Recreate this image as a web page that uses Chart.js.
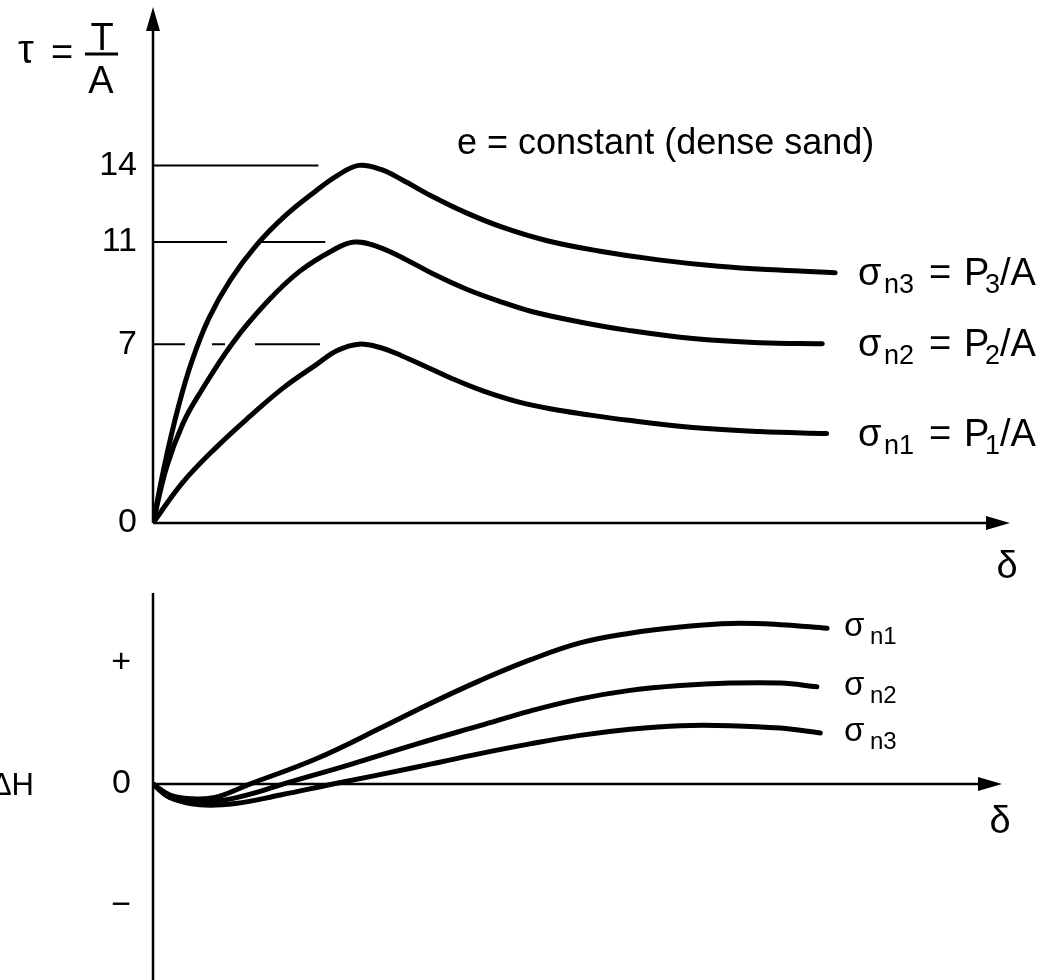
<!DOCTYPE html>
<html>
<head>
<meta charset="utf-8">
<script src="https://cdn.jsdelivr.net/npm/chart.js@4.4.1/dist/chart.umd.min.js"></script>
<style>
  html, body { margin: 0; padding: 0; background: #fff; }
  #wrap { position: relative; width: 1055px; height: 980px; overflow: hidden; }
  canvas { position: absolute; left: 0; }
  #shearChart { top: 0; }
  #heightChart { top: 590px; }
</style>
</head>
<body>
<div id="wrap">
  <canvas id="shearChart" width="1055" height="590"></canvas>
  <canvas id="heightChart" width="1055" height="390"></canvas>
</div>
<script>
// shear stress against horizontal displacement, [delta, tau]
const sn3Shear = [[0,0],[0.15,2.5],[0.30,4.6],[0.45,6.3],[0.65,8.0],[0.90,9.5],[1.20,10.85],[1.55,12.05],[1.90,13.0],[2.15,13.6],[2.40,14],[2.65,13.85],[2.90,13.45],[3.25,12.8],[3.65,12.15],[4.10,11.55],[4.60,11.05],[5.20,10.65],[5.90,10.3],[6.60,10.05],[7.30,9.9],[7.96,9.8]];
const sn2Shear = [[0,0],[0.16,2.2],[0.35,3.9],[0.55,5.1],[0.93,7.05],[1.33,8.65],[1.71,9.85],[2.10,10.68],[2.35,11],[2.62,10.82],[2.96,10.3],[3.27,9.75],[3.66,9.15],[4.05,8.67],[4.43,8.27],[4.98,7.87],[5.53,7.55],[6.30,7.22],[7.08,7.06],[7.81,7.02]];
const sn1Shear = [[0,0],[0.35,1.6],[0.75,3.0],[1.14,4.2],[1.52,5.29],[1.91,6.21],[2.15,6.75],[2.40,7],[2.65,6.87],[2.90,6.55],[3.20,6.1],[3.50,5.64],[3.85,5.17],[4.25,4.75],[4.65,4.46],[5.05,4.25],[5.55,4.02],[6.30,3.74],[7.08,3.58],[7.86,3.5]];

// change in sample height against displacement, [delta, dH]
const sn1Height = [[0,0],[0.20,-0.09],[0.44,-0.12],[0.73,-0.11],[1.14,0.0],[1.93,0.21],[2.71,0.47],[3.26,0.66],[3.85,0.85],[4.44,1.02],[5.03,1.16],[5.62,1.24],[6.21,1.29],[6.80,1.32],[7.39,1.31],[7.94,1.28]];
const sn2Height = [[0,0],[0.20,-0.11],[0.49,-0.15],[0.85,-0.13],[1.26,-0.06],[1.53,0.0],[2.32,0.16],[3.11,0.33],[3.85,0.48],[4.44,0.60],[5.03,0.70],[5.62,0.77],[6.21,0.81],[6.80,0.83],[7.39,0.83],[7.82,0.80]];
const sn3Height = [[0,0],[0.20,-0.11],[0.55,-0.17],[0.97,-0.16],[1.50,-0.09],[2.12,0],[3.11,0.14],[3.85,0.25],[4.44,0.33],[5.03,0.40],[5.62,0.45],[6.21,0.48],[6.80,0.48],[7.39,0.46],[7.86,0.42]];

// peak levels marked on the tau axis and how far their guide lines run
const shearTicks = [0, 7, 11, 14];
const peakLevels = [14, 11, 7];
const peakLineEnds = [1.93, 2.01, 1.95];
const peakLineDash = [[], [74, 35], [32, 27, 13, 30, 65, 10]];

const heightTicks = [1, 0, -1];
const heightTickLabels = { '1': '+', '0': '0', '-1': '\u2212' };

const FONT = '"Liberation Sans", Arial, sans-serif';
const pts = arr => arr.map(([x, y]) => ({ x, y }));

function curve(data) {
  return {
    data: pts(data), borderColor: '#000', borderWidth: 5, pointRadius: 0,
    tension: 0.4, borderCapStyle: 'round', borderJoinStyle: 'round', fill: false,
  };
}

function arrow(ctx, tx, ty, dx, dy) {
  const len = 24, half = 7;
  const bx = tx - dx * len, by = ty - dy * len;
  ctx.beginPath();
  ctx.moveTo(tx, ty);
  ctx.lineTo(bx - dy * half, by + dx * half);
  ctx.lineTo(bx + dy * half, by - dx * half);
  ctx.closePath();
  ctx.fill();
}

// hand-drawn style axes: plain lines with filled arrow heads
const sketchAxes = {
  id: 'sketchAxes',
  afterDatasetsDraw(chart, args, opts) {
    const { ctx, chartArea: a, scales: { y } } = chart;
    const y0 = y.getPixelForValue(0);
    ctx.save();
    ctx.strokeStyle = '#000';
    ctx.fillStyle = '#000';
    ctx.lineWidth = 2.5;
    ctx.beginPath();
    ctx.moveTo(a.left, opts.yArrow ? a.top + 20 : a.top);
    ctx.lineTo(a.left, a.bottom);
    ctx.moveTo(a.left, y0);
    ctx.lineTo(a.right - 20, y0);
    ctx.stroke();
    if (opts.yArrow) arrow(ctx, a.left, a.top, 0, -1);
    arrow(ctx, a.right, y0, 1, 0);
    ctx.restore();
  }
};

// sigma_n labels at the end of each curve
function sigmaLabel(ctx, x, base, parts, big, small) {
  parts.forEach(p => {
    ctx.font = (p.sub ? small : big) + 'px ' + FONT;
    ctx.fillText(p.t, x + p.dx, base + (p.sub ? 8 : 0));
  });
}

const shearText = {
  id: 'shearText',
  afterDraw(chart) {
    const { ctx, scales: { y } } = chart;
    ctx.save();
    ctx.fillStyle = '#000';
    ctx.strokeStyle = '#000';
    ctx.textAlign = 'left';
    ctx.textBaseline = 'alphabetic';

    ctx.font = '36px ' + FONT;
    ctx.fillText('e = constant (dense sand)', 457, 154);

    // tau = T / A
    ctx.font = '40px ' + FONT;
    ctx.fillText('\u03c4', 18, 63);
    ctx.font = '38px ' + FONT;
    ctx.fillText('=', 51, 65);
    ctx.textAlign = 'center';
    ctx.fillText('T', 102, 50);
    ctx.fillText('A', 101, 93);
    ctx.lineWidth = 3;
    ctx.beginPath();
    ctx.moveTo(85, 54);
    ctx.lineTo(118, 54);
    ctx.stroke();

    ctx.fillText('\u03b4', 1007, 578);

    ctx.textAlign = 'left';
    [[sn3Shear, '3'], [sn2Shear, '2'], [sn1Shear, '1']].forEach(([d, n]) => {
      const end = d[d.length - 1];
      const base = y.getPixelForValue(end[1]) + 12;
      sigmaLabel(ctx, 858, base, [
        { t: '\u03c3', dx: 0 }, { t: 'n' + n, dx: 26, sub: true },
        { t: '=', dx: 71 }, { t: 'P', dx: 106 }, { t: n, dx: 127, sub: true }, { t: '/A', dx: 142 },
      ], 38, 27);
    });
    ctx.restore();
  }
};

const heightText = {
  id: 'heightText',
  afterDraw(chart) {
    const { ctx, scales: { y } } = chart;
    ctx.save();
    ctx.fillStyle = '#000';
    ctx.textBaseline = 'alphabetic';
    ctx.textAlign = 'right';
    ctx.font = '31px ' + FONT;
    ctx.fillText('\u0394H', 34, y.getPixelForValue(0) + 11);
    ctx.textAlign = 'center';
    ctx.font = '38px ' + FONT;
    ctx.fillText('\u03b4', 1000, 243);
    ctx.textAlign = 'left';
    [[sn1Height, '1'], [sn2Height, '2'], [sn3Height, '3']].forEach(([d, n]) => {
      const end = d[d.length - 1];
      const base = y.getPixelForValue(end[1]) + 8;
      sigmaLabel(ctx, 844, base, [{ t: '\u03c3', dx: 0 }, { t: 'n' + n, dx: 26, sub: true }], 33, 24);
    });
    ctx.restore();
  }
};

function fixedAxis(width) {
  return s => { s.width = width; s.paddingTop = 0; s.paddingBottom = 0; };
}

const guideSets = peakLevels.map((lv, i) => ({
  data: [{ x: 0, y: lv }, { x: peakLineEnds[i], y: lv }],
  borderColor: '#000', borderWidth: 2, pointRadius: 0, borderDash: peakLineDash[i], fill: false,
}));

new Chart(document.getElementById('shearChart'), {
  type: 'line',
  data: { datasets: [...guideSets, curve(sn3Shear), curve(sn2Shear), curve(sn1Shear)] },
  options: {
    responsive: false, animation: false, events: [],
    layout: { padding: { left: 0, right: 45, top: 7, bottom: 67 } },
    plugins: { legend: { display: false }, tooltip: { enabled: false }, sketchAxes: { yArrow: true } },
    scales: {
      x: { type: 'linear', min: 0, max: 10, display: false },
      y: {
        type: 'linear', min: 0, max: 20.2,
        afterBuildTicks: s => { s.ticks = shearTicks.map(v => ({ value: v })); },
        afterFit: fixedAxis(153),
        grid: { display: false, drawTicks: false },
        border: { display: false },
        ticks: { color: '#000', padding: 16, font: { family: FONT, size: 34 } },
      },
    },
  },
  plugins: [sketchAxes, shearText],
});

new Chart(document.getElementById('heightChart'), {
  type: 'line',
  data: { datasets: [curve(sn1Height), curve(sn2Height), curve(sn3Height)] },
  options: {
    responsive: false, animation: false, events: [],
    layout: { padding: { left: 0, right: 53, top: 3, bottom: 0 } },
    plugins: { legend: { display: false }, tooltip: { enabled: false }, sketchAxes: { yArrow: false } },
    scales: {
      x: { type: 'linear', min: 0, max: 10, display: false },
      y: {
        type: 'linear', min: -1.61, max: 1.57,
        afterBuildTicks: s => { s.ticks = heightTicks.map(v => ({ value: v })); },
        afterFit: fixedAxis(153),
        grid: { display: false, drawTicks: false },
        border: { display: false },
        ticks: {
          color: '#000', padding: 22, font: { family: FONT, size: 34 },
          callback: v => heightTickLabels[String(v)],
        },
      },
    },
  },
  plugins: [sketchAxes, heightText],
});
</script>
</body>
</html>
